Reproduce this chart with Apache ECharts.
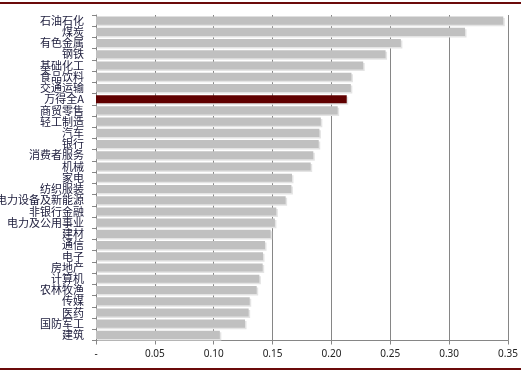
<!DOCTYPE html>
<html>
<head>
<meta charset="utf-8">
<script src="https://cdn.jsdelivr.net/npm/echarts@6/dist/echarts.min.js"></script>
<style>html,body{margin:0;padding:0;background:#fff;}#c{width:521px;height:372px;}</style>
</head>
<body>
<div id="c"></div>
<script>
const categories = ['石油石化','煤炭','有色金属','钢铁','基础化工','食品饮料','交通运输','万得全A','商贸零售','轻工制造','汽车','银行','消费者服务','机械','家电','纺织服装','电力设备及新能源','非银行金融','电力及公用事业','建材','通信','电子','房地产','计算机','农林牧渔','传媒','医药','国防军工','建筑'];
const values = [0.346,0.3135,0.259,0.246,0.227,0.217,0.2165,0.213,0.2053,0.191,0.1898,0.1892,0.1846,0.1824,0.1665,0.166,0.1611,0.1532,0.152,0.1484,0.1436,0.1419,0.1416,0.1388,0.1365,0.1306,0.1297,0.1266,0.1052];
const highlight = '万得全A';
const xTicks = [0,0.05,0.10,0.15,0.20,0.25,0.30,0.35];

const chart = echarts.init(document.getElementById('c'), null, {renderer:'canvas'});
chart.setOption({
  animation:false,
  grid:{left:96,right:13,top:15,bottom:31.5,containLabel:false,outerBoundsMode:'none'},
  xAxis:{
    type:'value',min:0,max:0.35,interval:0.05,
    axisLine:{show:true,lineStyle:{color:'#868686',width:1}},
    axisTick:{show:true,inside:false,length:4,lineStyle:{color:'#868686'}},
    splitLine:{show:true,lineStyle:{color:'#868686',width:1}},
    axisLabel:{color:'#222',fontSize:10,fontFamily:'Noto Sans',margin:9,
      formatter:function(v){ if(Math.abs(v)<1e-9) return '-'; const t=xTicks.find(x=>Math.abs(x-v)<1e-9); return (t!==undefined?t:v).toFixed(2);} }
  },
  yAxis:{
    type:'category',data:categories,inverse:true,
    axisLine:{show:true,lineStyle:{color:'#868686',width:1}},
    axisTick:{show:true,length:4,interval:0,lineStyle:{color:'#868686'}},
    axisLabel:{interval:0,color:'#1a1a3a',fontSize:11,fontFamily:'Noto Sans CJK SC',margin:12}
  },
  series:[{
    type:'bar',
    data:values.map((v,i)=>({value:v,itemStyle:{color: categories[i]===highlight?'#600000':'#c0c0c0'}})),
    barCategoryGap:'28%',
    itemStyle:{shadowColor:'#e4e4e4',shadowOffsetX:1.5,shadowOffsetY:1.5,shadowBlur:0}
  }],
  graphic:[
    {type:'rect',shape:{x:0,y:2,width:521,height:2},style:{fill:'#6b0a0a'}},
    {type:'rect',shape:{x:0,y:368,width:521,height:2},style:{fill:'#6b0a0a'}}
  ]
});
</script>
</body>
</html>
